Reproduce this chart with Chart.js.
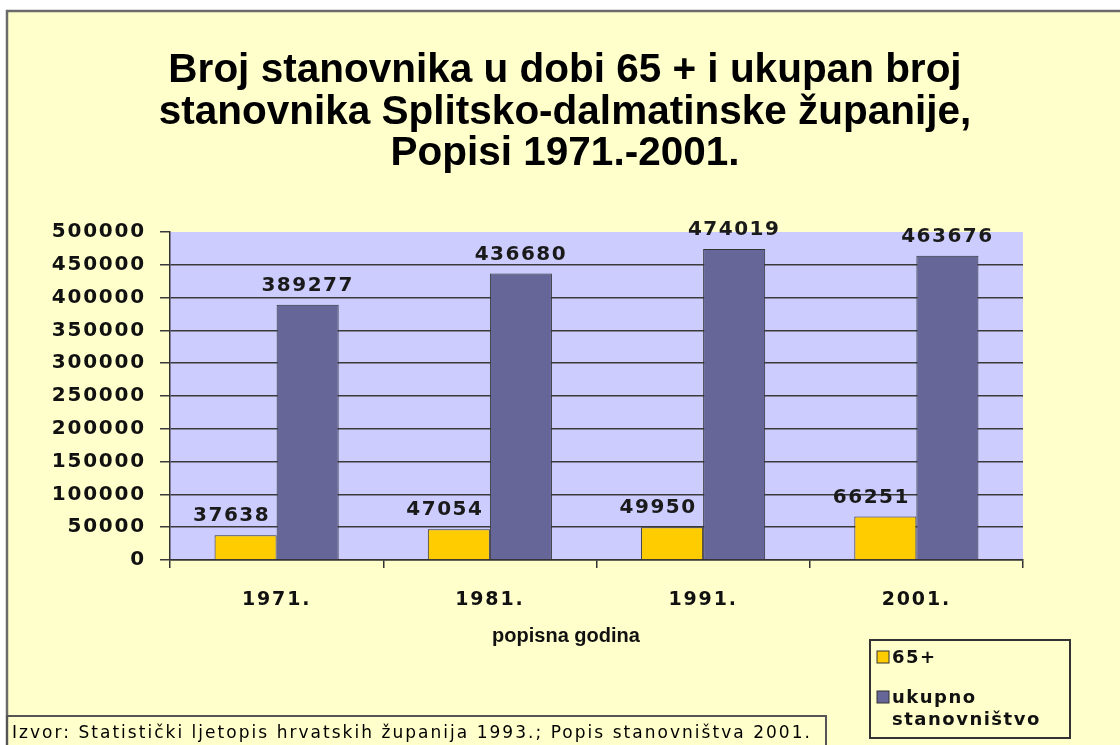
<!DOCTYPE html>
<html>
<head>
<meta charset="utf-8">
<script src="https://cdn.jsdelivr.net/npm/chart.js@4/dist/chart.umd.min.js"></script>
<style>
  html, body { margin: 0; padding: 0; background: #ffffff; }
  #wrap { width: 1120px; height: 745px; }
</style>
</head>
<body>
<div id="wrap"><canvas id="c" width="1120" height="745"></canvas></div>
<script>
// ---- data ----
const categories = ['1971.', '1981.', '1991.', '2001.'];
const seniors = [37638, 47054, 49950, 66251];
const totals = [389277, 436680, 474019, 463676];
const seriesNames = ['65+', 'ukupno stanovništvo'];
const titleLines = [
  'Broj stanovnika u dobi 65 + i ukupan broj',
  'stanovnika Splitsko-dalmatinske županije,',
  'Popisi 1971.-2001.'
];
const xAxisTitle = 'popisna godina';
const sourceText = 'Izvor: Statistički ljetopis hrvatskih županija 1993.; Popis stanovništva 2001.';
const yMin = 0, yMax = 500000, yStep = 50000;

const NUM_FONT = 'DejaVu Sans';

const backdrop = {
  id: 'backdrop',
  beforeDraw(chart) {
    const ctx = chart.ctx;
    const a = chart.chartArea;
    ctx.save();
    ctx.fillStyle = '#ffffff';
    ctx.fillRect(0, 0, chart.width, chart.height);
    ctx.fillStyle = '#FFFFCC';
    ctx.fillRect(7, 11, chart.width, chart.height);
    ctx.strokeStyle = '#6b6b6b';
    ctx.lineWidth = 2.5;
    ctx.strokeRect(7, 11, chart.width + 20, chart.height + 20);
    ctx.fillStyle = '#CCCCFF';
    ctx.fillRect(a.left, a.top, a.right - a.left, a.bottom - a.top);
    ctx.restore();
    ctx.letterSpacing = '1.8px';
  },
  afterDatasetsDraw(chart) {
    const ctx = chart.ctx;
    ctx.save();
    ctx.font = 'bold 20px "' + NUM_FONT + '"';
    ctx.letterSpacing = '1.5px';
    ctx.fillStyle = '#1a1a1a';
    ctx.textAlign = 'center';
    ctx.textBaseline = 'alphabetic';
    chart.data.datasets.forEach((ds, di) => {
      const meta = chart.getDatasetMeta(di);
      const dx = di === 0 ? -14 : 0;
      meta.data.forEach((el, i) => {
        ctx.fillText(String(ds.data[i]), el.x + dx, el.y - 14);
      });
    });
    ctx.restore();
    ctx.letterSpacing = '0px';
  },
  afterDraw(chart) {
    const ctx = chart.ctx;
    ctx.save();
    ctx.letterSpacing = '0px';
    // title
    ctx.fillStyle = '#000000';
    ctx.font = 'bold 40.5px "Liberation Sans"';
    ctx.textAlign = 'center';
    ctx.textBaseline = 'alphabetic';
    const tb = [82, 124, 165];
    titleLines.forEach((t, i) => ctx.fillText(t, 565, tb[i]));

    // x axis title
    ctx.fillStyle = '#111111';
    ctx.font = 'bold 20px "Liberation Sans"';
    ctx.textBaseline = 'middle';
    ctx.fillText(xAxisTitle, 566, 636);

    // legend
    ctx.strokeStyle = '#333333';
    ctx.lineWidth = 2;
    ctx.strokeRect(870, 640, 200, 98);
    const colors = chart.data.datasets.map(d => d.backgroundColor);
    ctx.lineWidth = 1;
    ctx.fillStyle = colors[0];
    ctx.fillRect(877, 651, 12, 12);
    ctx.strokeRect(877, 651, 12, 12);
    ctx.fillStyle = colors[1];
    ctx.fillRect(877, 691, 12, 12);
    ctx.strokeRect(877, 691, 12, 12);
    ctx.fillStyle = '#111111';
    ctx.font = 'bold 18px "' + NUM_FONT + '"';
    ctx.letterSpacing = '1.5px';
    ctx.textAlign = 'left';
    ctx.textBaseline = 'middle';
    ctx.fillText(seriesNames[0], 892, 658);
    const parts = seriesNames[1].split(' ');
    ctx.fillText(parts[0], 892, 698);
    ctx.fillText(parts[1], 892, 720);

    // source box
    ctx.letterSpacing = '0px';
    ctx.strokeStyle = '#555555';
    ctx.lineWidth = 2;
    ctx.strokeRect(7, 716, 819, 40);
    ctx.font = '17px "DejaVu Sans"';
    const w = ctx.measureText(sourceText).width;
    const sp = (800 - w) / sourceText.length;
    ctx.letterSpacing = sp.toFixed(2) + 'px';
    ctx.fillStyle = '#000000';
    ctx.textBaseline = 'alphabetic';
    ctx.fillText(sourceText, 12, 738);
    ctx.restore();
  }
};

new Chart(document.getElementById('c'), {
  type: 'bar',
  data: {
    labels: categories,
    datasets: [
      { label: seriesNames[0], data: seniors, backgroundColor: '#FFCC00', borderColor: '#333333', borderWidth: 1,
        categoryPercentage: 0.582, barPercentage: 1.0 },
      { label: seriesNames[1], data: totals, backgroundColor: '#666699', borderColor: '#333333', borderWidth: 1,
        categoryPercentage: 0.582, barPercentage: 1.0 }
    ]
  },
  options: {
    responsive: false,
    animation: false,
    devicePixelRatio: 1,
    layout: { padding: { top: 232, right: 97, left: 0, bottom: 0 } },
    plugins: {
      legend: { display: false },
      title: { display: false },
      tooltip: { enabled: false }
    },
    scales: {
      x: {
        offset: true,
        afterFit: s => { s.height = 185; },
        grid: { offset: true, drawOnChartArea: false, drawTicks: true, tickLength: 8, color: '#333333', lineWidth: 1.5 },
        border: { display: true, color: '#333333', width: 1.5 },
        ticks: { padding: 21, color: '#111111', font: { family: NUM_FONT, weight: 'bold', size: 19 } },
        title: { display: false }
      },
      y: {
        min: yMin, max: yMax,
        afterFit: s => { s.width = 170; },
        grid: {
          color: c => (c.tick && c.tick.value === yMax) ? 'rgba(0,0,0,0)' : '#3a3a3a',
          tickColor: '#3a3a3a',
          lineWidth: 1.5,
          tickLength: 10,
          drawTicks: true
        },
        border: { display: true, color: '#333333', width: 1.5 },
        ticks: { stepSize: yStep, padding: 14, color: '#111111',
          font: { family: NUM_FONT, weight: 'bold', size: 20 },
          callback: v => String(v) }
      }
    }
  },
  plugins: [backdrop]
});
</script>
</body>
</html>
